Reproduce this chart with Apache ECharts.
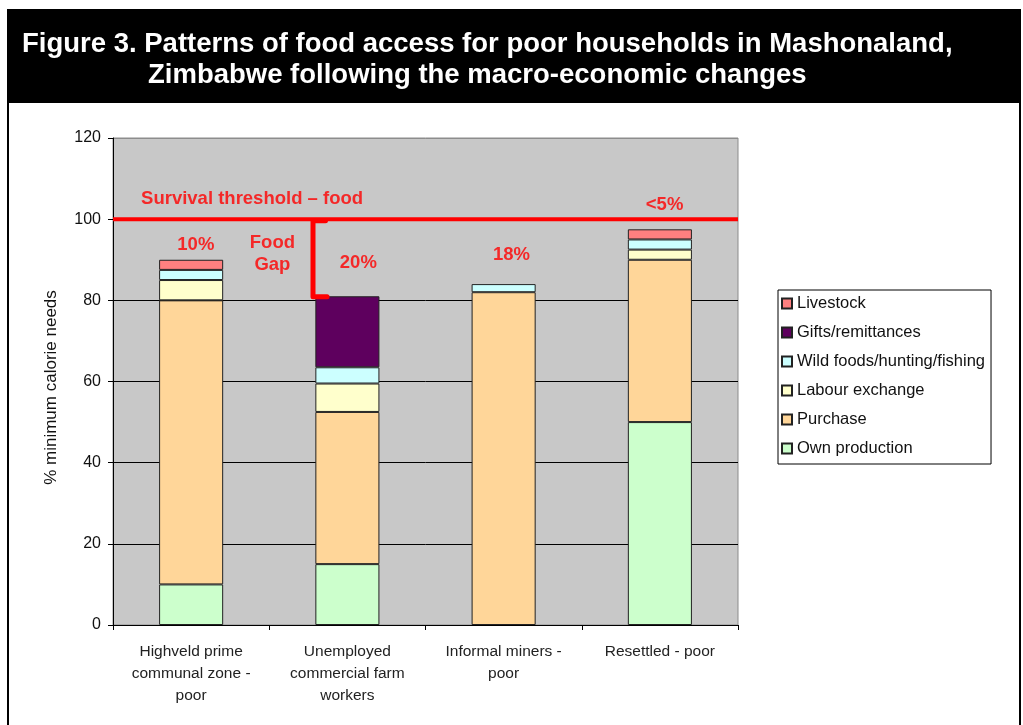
<!DOCTYPE html>
<html>
<head>
<meta charset="utf-8">
<script src="https://cdn.jsdelivr.net/npm/echarts@6/dist/echarts.min.js"></script>
<style>
  html, body { margin: 0; padding: 0; background: #fff; }
  #chart { width: 1023px; height: 725px; }
</style>
</head>
<body>
<div id="chart"></div>
<script>
// categories and values (% of minimum calorie needs)
const categories = [
  "Highveld prime\ncommunal zone -\npoor",
  "Unemployed\ncommercial farm\nworkers",
  "Informal miners -\npoor",
  "Resettled - poor"
];
const ownProduction = [10, 15, 0, 50];
const purchase = [70, 37.5, 82, 40];
const labourExchange = [5, 7, 0, 2.5];
const wildFoods = [2.5, 4, 2, 2.5];
const gifts = [0, 17.5, 0, 0];
const livestock = [2.5, 0, 0, 2.5];

const seriesNames = ["Own production", "Purchase", "Labour exchange",
  "Wild foods/hunting/fishing", "Gifts/remittances", "Livestock"];
const seriesColors = ["#CCFFCC", "#FFD699", "#FFFFCC", "#CCFFFF", "#5E005E", "#FF8080"];
const seriesValues = [ownProduction, purchase, labourExchange, wildFoods, gifts, livestock];

const yTicks = [0, 20, 40, 60, 80, 100, 120];
const threshold = 100;

// annotations placed on a hidden 0..4 value axis spanning the categories
const annoText = ["Survival threshold – food", "<5%", "10%", "Food\nGap", "20%", "18%"];
const annoX = [0.89, 3.53, 0.53, 1.02, 1.57, 2.55];
const annoY = [105, 103.6, 93.6, 91.4, 89.2, 91.1];
const gapX = [1.36, 1.28, 1.28, 1.37];
const gapY = [99.6, 99.6, 80.9, 80.9];

const red = "#FF0000";
const font = "Arial, 'Liberation Sans', sans-serif";

const chart = echarts.init(document.getElementById("chart"));

const barSeries = seriesNames.map((name, i) => ({
  name: name,
  type: "bar",
  stack: "total",
  barWidth: "41%",
  itemStyle: { color: seriesColors[i], borderColor: "#222", borderWidth: 1 },
  data: seriesValues[i].map(v => (v === 0 ? "-" : v)),
  z: 2
}));

const option = {
  animation: false,
  backgroundColor: "#fff",
  textStyle: { fontFamily: font },
  title: [
    {
      text: "Figure 3. Patterns of food access for poor households in Mashonaland,",
      left: 17, top: 25,
      textStyle: { color: "#fff", fontSize: 27.5, fontWeight: "bold", fontFamily: font }
    },
    {
      text: "Zimbabwe following the macro-economic changes",
      left: 143, top: 56,
      textStyle: { color: "#fff", fontSize: 27.5, fontWeight: "bold", fontFamily: font }
    }
  ],
  graphic: [
    { type: "rect", z: -10, shape: { x: 8, y: 10, width: 1012, height: 93 }, style: { fill: "#000" } },
    { type: "rect", z: -10, shape: { x: 8, y: 10, width: 1012, height: 740 }, style: { fill: null, stroke: "#000", lineWidth: 2 } }
  ],
  legend: {
    orient: "vertical",
    left: 778, top: 290,
    data: seriesNames.slice().reverse(),
    icon: "rect",
    itemWidth: 10, itemHeight: 10, itemGap: 12,
    padding: [5, 6, 7, 3],
    backgroundColor: "#fff",
    borderColor: "#000",
    borderWidth: 1,
    textStyle: { fontSize: 16.5, color: "#111", fontFamily: font }
  },
  grid: {
    left: 113, top: 138, right: 285, bottom: 100,
    show: true, backgroundColor: "#C8C8C8", borderColor: "#8c8c8c", borderWidth: 1
  },
  xAxis: [
    {
      type: "category",
      data: categories,
      axisLine: { lineStyle: { color: "#000" } },
      axisTick: { show: true, length: 5, lineStyle: { color: "#000" } },
      axisLabel: { fontSize: 15.5, color: "#222", lineHeight: 22, margin: 16, interval: 0 }
    },
    { type: "value", min: 0, max: 4, show: false }
  ],
  yAxis: {
    type: "value",
    min: yTicks[0], max: yTicks[yTicks.length - 1], interval: 20,
    name: "% minimum calorie needs",
    nameLocation: "middle",
    nameGap: 53,
    nameTextStyle: { fontSize: 17, color: "#111", padding: [0, 12, 0, 0] },
    axisLine: { show: true, lineStyle: { color: "#000" } },
    axisTick: { show: true, length: 5, lineStyle: { color: "#000" } },
    axisLabel: { fontSize: 16, color: "#111", margin: 12 },
    splitLine: {
      lineStyle: { color: ["#000", "#000", "#000", "#000", "#000", "#000", "#8c8c8c"], width: 1 }
    }
  },
  series: [
    ...barSeries,
    {
      name: "threshold",
      type: "line",
      xAxisIndex: 1,
      symbol: "none",
      lineStyle: { color: red, width: 4 },
      data: [[0, threshold], [4, threshold]],
      z: 5, silent: true
    },
    {
      name: "gap",
      type: "line",
      xAxisIndex: 1,
      symbol: "none",
      lineStyle: { color: red, width: 5, cap: "round", join: "round" },
      data: gapX.map((x, i) => [x, gapY[i]]),
      z: 5, silent: true
    },
    {
      name: "notes",
      type: "scatter",
      xAxisIndex: 1,
      symbolSize: 0,
      silent: true,
      z: 6,
      label: {
        show: true,
        position: "inside",
        formatter: p => annoText[p.dataIndex],
        color: red,
        fontSize: 18.5,
        fontWeight: "bold",
        lineHeight: 22,
        fontFamily: font
      },
      data: annoX.map((x, i) => [x, annoY[i]])
    }
  ]
};

chart.setOption(option);
</script>
</body>
</html>
